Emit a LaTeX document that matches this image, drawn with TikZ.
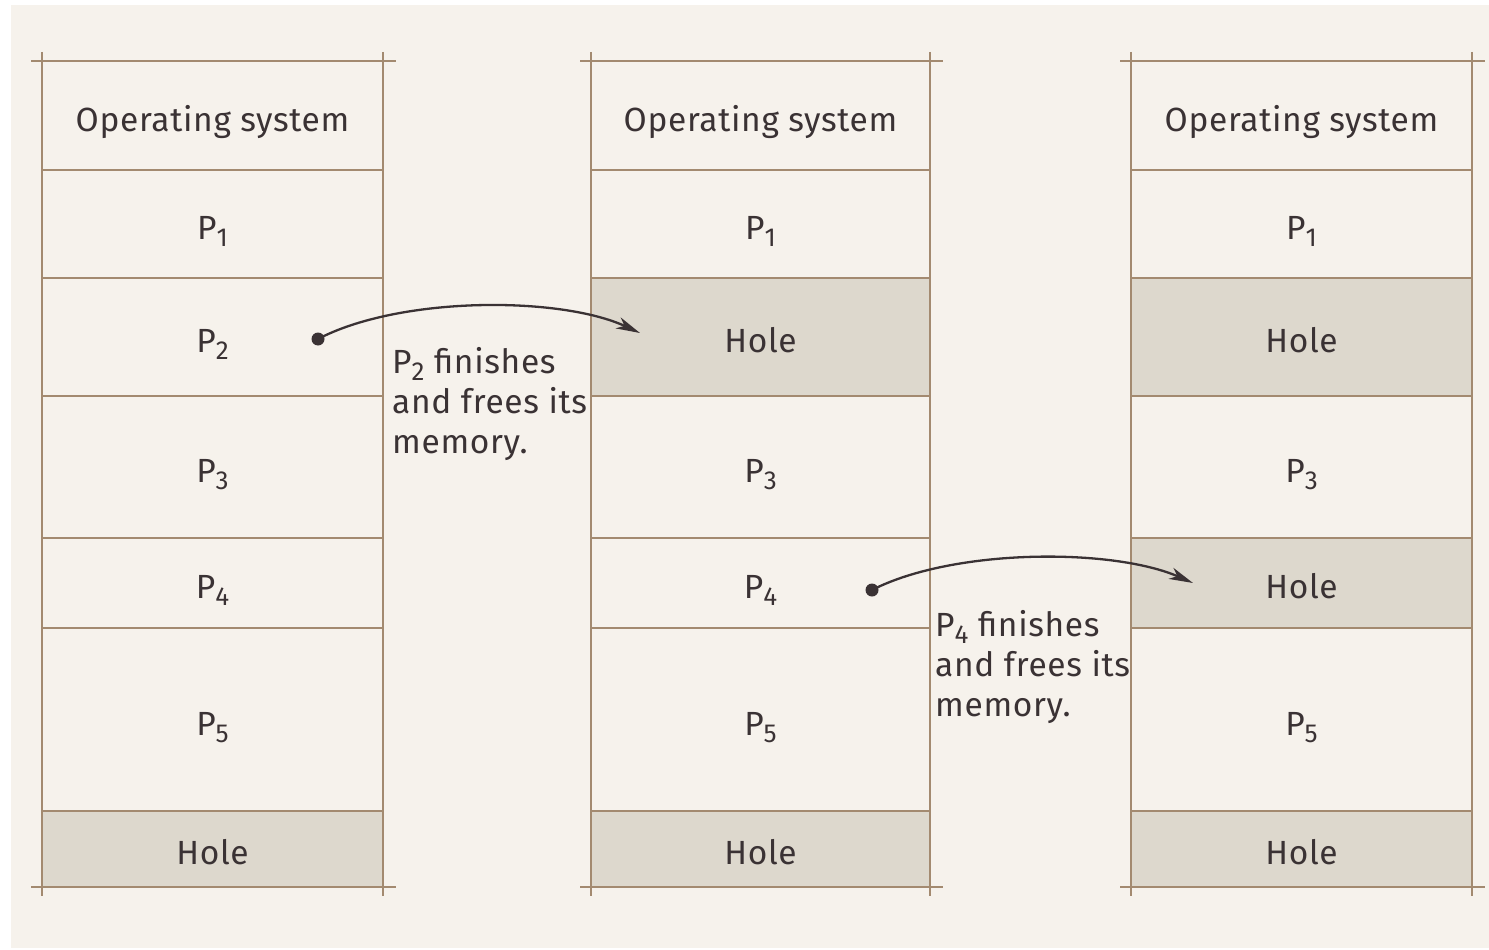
\documentclass[tikz,border=0pt]{standalone}
\usepackage{fontspec}
\setmainfont{Fira Sans}[LetterSpace=2]
\usetikzlibrary{arrows.meta}
\definecolor{panel}{HTML}{F6F2EC}
\definecolor{rule}{HTML}{A38A70}
\definecolor{holefill}{HTML}{DDD8CD}
\definecolor{ink}{HTML}{3A3234}

% process name with a subscript number
\newcommand\Psub[1]{P{\fontsize{26}{26}\selectfont\raisebox{-7pt}{#1}}}
% one memory cell: name, left, top, right, bottom, style, text
\newcommand\memcell[7]{\node[#6, minimum width={(#4-#2)*1pt}, minimum height={(#5-#3)*1pt}] (#1) at (#2,#3) {#7};}

\begin{document}
\begin{tikzpicture}[x=1pt, y=-1pt,
  font=\fontsize{33.5}{40}\selectfont, text=ink,
  cell/.style={rectangle, inner sep=0pt, outer sep=0pt, anchor=north west,
    text height=33pt, text depth=2pt},
  holecell/.style={cell, fill=holefill},
  rulel/.style={draw=rule, line width=2.8pt},
  dotnode/.style={circle, fill=ink, inner sep=0pt, minimum size=13pt},
  freearrow/.style={draw=ink, line width=2.3pt, -{Stealth[length=24pt, width=12pt, inset=7pt]}},
  note/.style={anchor=north west, align=left, inner sep=0pt}]

% page and panel
\fill[white] (0,0) rectangle (1489,950);
\fill[panel] (11,5) rectangle (1489,948);

% first memory map
\memcell{a0}{42}{61}{383}{170}{cell}{Operating system}
\memcell{a1}{42}{170}{383}{278}{cell}{\Psub1}
\memcell{a2}{42}{278}{383}{396}{cell}{\Psub2}
\memcell{a3}{42}{396}{383}{538}{cell}{\Psub3}
\memcell{a4}{42}{538}{383}{628}{cell}{\Psub4}
\memcell{a5}{42}{628}{383}{811}{cell}{\Psub5}
\memcell{a6}{42}{811}{383}{887}{holecell}{Hole}

% second memory map
\memcell{b0}{591}{61}{930}{170}{cell}{Operating system}
\memcell{b1}{591}{170}{930}{278}{cell}{\Psub1}
\memcell{b2}{591}{278}{930}{396}{holecell}{Hole}
\memcell{b3}{591}{396}{930}{538}{cell}{\Psub3}
\memcell{b4}{591}{538}{930}{628}{cell}{\Psub4}
\memcell{b5}{591}{628}{930}{811}{cell}{\Psub5}
\memcell{b6}{591}{811}{930}{887}{holecell}{Hole}

% third memory map
\memcell{c0}{1131}{61}{1472}{170}{cell}{Operating system}
\memcell{c1}{1131}{170}{1472}{278}{cell}{\Psub1}
\memcell{c2}{1131}{278}{1472}{396}{holecell}{Hole}
\memcell{c3}{1131}{396}{1472}{538}{cell}{\Psub3}
\memcell{c4}{1131}{538}{1472}{628}{holecell}{Hole}
\memcell{c5}{1131}{628}{1472}{811}{cell}{\Psub5}
\memcell{c6}{1131}{811}{1472}{887}{holecell}{Hole}

% rules of each map
\foreach \m in {a,b,c}{
  \foreach \r in {0,...,5}{
    \draw[rulel] (\m\r.south west) -- (\m\r.south east);
  }
  \draw[rulel] ([xshift=-11pt]\m0.north west) -- ([xshift=13pt]\m0.north east);
  \draw[rulel] ([xshift=-11pt]\m6.south west) -- ([xshift=13pt]\m6.south east);
  \draw[rulel] ([yshift=9pt]\m0.north west) -- ([yshift=-9pt]\m6.south west);
  \draw[rulel] ([yshift=9pt]\m0.north east) -- ([yshift=-9pt]\m6.south east);
}

% P2 is freed
\node[dotnode] (d1) at (318,339) {};
\coordinate (t1) at (640,333);
\draw[freearrow] (d1.center) .. controls (400,296) and (560,296) .. (t1);
\node[note] (n1) at (392,347) {\Psub2 finishes\\and frees its\\memory.};

% P4 is freed
\node[dotnode] (d2) at (872,590) {};
\coordinate (t2) at (1193,583);
\draw[freearrow] (d2.center) .. controls (954,548) and (1113,548) .. (t2);
\node[note] (n2) at (935,610) {\Psub4 finishes\\and frees its\\memory.};
\end{tikzpicture}
\end{document}
